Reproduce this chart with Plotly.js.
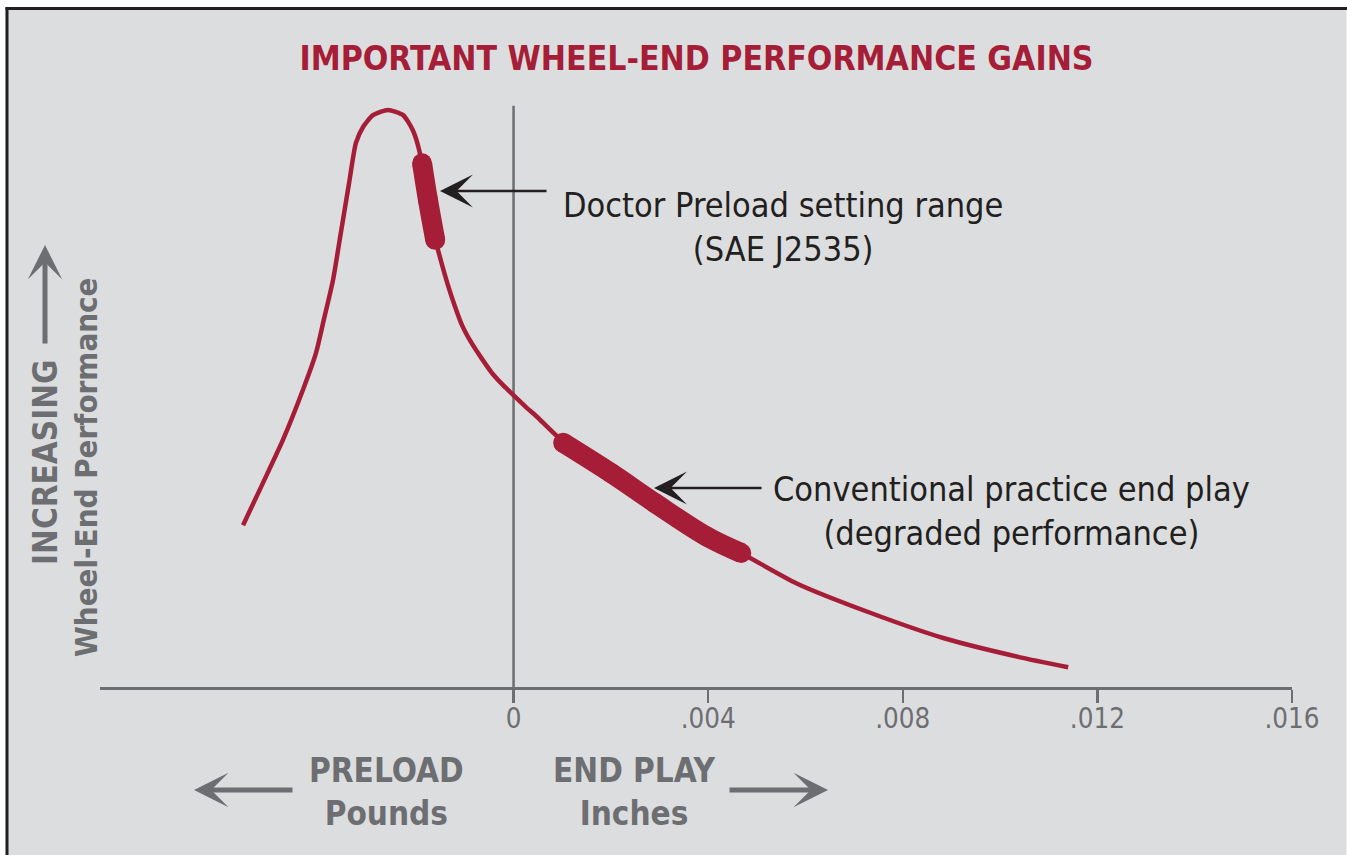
<!DOCTYPE html>
<html>
<head>
<meta charset="utf-8">
<script src="https://cdn.plot.ly/plotly-3.0.1.min.js"></script>
<style>
  html, body { margin: 0; padding: 0; background: #ffffff; overflow: hidden; }
  #chart { width: 1347px; height: 855px; }
</style>
</head>
<body>
<div id="chart"></div>
<script>
// ---- Data ----
// x: preload (negative) / end play in inches (positive); y: relative wheel-end performance (arbitrary 0-100)
const curveX = [-0.00556, -0.00515, -0.00474, -0.00433, -0.00406, -0.00390, -0.00371, -0.00355, -0.00338, -0.00324,
                -0.00309, -0.00289, -0.00258, -0.00227, -0.00207, -0.00194, -0.00176, -0.00159, -0.00149, -0.00136,
                -0.00122, -0.00106, -0.00087, -0.00066, -0.00044, -0.00021, 0.00000, 0.00025, 0.00048, 0.00094,
                0.00200, 0.00291, 0.00398, 0.00474, 0.00581, 0.00733, 0.00885, 0.01037, 0.01140];
const curveY = [27.9, 35.2, 42.6, 51.2, 57.6, 63.3, 70.2, 78.3, 86.9, 93.8,
                96.6, 98.6, 99.5, 98.6, 96.0, 92.6, 84.0, 76.6, 73.4, 69.6,
                66.0, 62.4, 59.4, 56.7, 54.1, 52.0, 50.3, 48.3, 46.6, 42.9,
                36.9, 31.7, 25.9, 22.8, 17.9, 12.8, 8.4, 5.2, 3.4];

// Highlighted range: Doctor Preload setting range (SAE J2535)
const doctorX = [-0.00188, -0.00176, -0.00161];
const doctorY = [90.3, 84.0, 77.1];

// Highlighted range: conventional practice end play
const convX = [0.00102, 0.00200, 0.00291, 0.00398, 0.00468];
const convY = [42.1, 36.9, 31.7, 25.9, 23.1];

const tickVals = [0, 0.004, 0.008, 0.012, 0.016];
const tickText = ['0', '.004', '.008', '.012', '.016'];

const titleText = 'IMPORTANT WHEEL-END PERFORMANCE GAINS';
const doctorLabel = 'Doctor Preload setting range<br>(SAE J2535)';
const convLabel = 'Conventional practice end play<br>(degraded performance)';

// ---- Styling ----
const RED = '#a51d36';
const GREY = '#6d6e71';
const INK = '#231f20';
const BG = '#dcdddf';
const NARROW = '"Liberation Sans Narrow", "DejaVu Sans Condensed", "Roboto Condensed", "Arial Narrow", sans-serif';

const W = 1347, H = 855, L = 100, R = 55, T = 78, B = 168;
const pw = W - L - R, ph = H - T - B;
const pxX = px => (px - L) / pw;
const pxY = py => (H - B - py) / ph;

const traces = [
  { x: curveX, y: curveY, type: 'scatter', mode: 'lines',
    line: { color: RED, width: 4.5, shape: 'spline', smoothing: 0.6 }, hoverinfo: 'skip' },
  { x: doctorX, y: doctorY, type: 'scatter', mode: 'lines+markers',
    line: { color: RED, width: 20, shape: 'spline' }, marker: { color: RED, size: 20 }, hoverinfo: 'skip' },
  { x: convX, y: convY, type: 'scatter', mode: 'lines+markers',
    line: { color: RED, width: 20, shape: 'spline' }, marker: { color: RED, size: 20 }, hoverinfo: 'skip' }
];

const annotations = [
  // callout texts
  { xref: 'paper', yref: 'paper', x: pxX(783), y: pxY(227), text: doctorLabel, showarrow: false,
    align: 'center', xanchor: 'center', yanchor: 'middle',
    font: { family: NARROW, size: 34, color: INK } },
  { xref: 'paper', yref: 'paper', x: pxX(1011), y: pxY(511), text: convLabel, showarrow: false,
    align: 'center', xanchor: 'center', yanchor: 'middle',
    font: { family: NARROW, size: 34, color: INK } },
  // callout arrows
  { xref: 'paper', yref: 'paper', x: pxX(440), y: pxY(191), text: '', showarrow: true,
    axref: 'pixel', ayref: 'pixel', ax: 108, ay: 0, arrowhead: 3, arrowsize: 2.2, arrowwidth: 2.5,
    arrowcolor: INK, standoff: 0 },
  { xref: 'paper', yref: 'paper', x: pxX(654), y: pxY(488), text: '', showarrow: true,
    axref: 'pixel', ayref: 'pixel', ax: 109, ay: 0, arrowhead: 3, arrowsize: 2.2, arrowwidth: 2.5,
    arrowcolor: INK, standoff: 0 },
  // bottom axis labels
  { xref: 'paper', yref: 'paper', x: pxX(386), y: pxY(792), text: '<b>PRELOAD</b><br><b>Pounds</b>', showarrow: false,
    align: 'center', xanchor: 'center', yanchor: 'middle',
    font: { family: NARROW, size: 33, color: GREY } },
  { xref: 'paper', yref: 'paper', x: pxX(634), y: pxY(792), text: '<b>END PLAY</b><br><b>Inches</b>', showarrow: false,
    align: 'center', xanchor: 'center', yanchor: 'middle',
    font: { family: NARROW, size: 33, color: GREY } },
  { xref: 'paper', yref: 'paper', x: pxX(194), y: pxY(790), text: '', showarrow: true,
    axref: 'pixel', ayref: 'pixel', ax: 100, ay: 0, arrowhead: 3, arrowsize: 1.15, arrowwidth: 5,
    arrowcolor: GREY, standoff: 0 },
  { xref: 'paper', yref: 'paper', x: pxX(828), y: pxY(790), text: '', showarrow: true,
    axref: 'pixel', ayref: 'pixel', ax: -100, ay: 0, arrowhead: 3, arrowsize: 1.15, arrowwidth: 5,
    arrowcolor: GREY, standoff: 0 },
  // vertical axis labels
  { xref: 'paper', yref: 'paper', x: pxX(45), y: pxY(463), text: '<b>INCREASING</b>', showarrow: false,
    textangle: -90, xanchor: 'center', yanchor: 'middle',
    font: { family: NARROW, size: 33, color: GREY } },
  { xref: 'paper', yref: 'paper', x: pxX(86), y: pxY(467), text: '<b>Wheel-End Performance</b>', showarrow: false,
    textangle: -90, xanchor: 'center', yanchor: 'middle',
    font: { family: NARROW, size: 31, color: GREY } },
  { xref: 'paper', yref: 'paper', x: pxX(45), y: pxY(245), text: '', showarrow: true,
    axref: 'pixel', ayref: 'pixel', ax: 0, ay: 100, arrowhead: 3, arrowsize: 1.15, arrowwidth: 5,
    arrowcolor: GREY, standoff: 0 }
];

const shapes = [
  // vertical zero line
  { type: 'line', xref: 'x', yref: 'y', x0: 0, x1: 0, y0: 0, y1: 100.2,
    line: { color: GREY, width: 2.5 }, layer: 'below' },
  // white outer margin (top and left)
  { type: 'rect', xref: 'paper', yref: 'paper', x0: pxX(0), x1: pxX(5.5), y0: pxY(H), y1: pxY(0),
    fillcolor: '#ffffff', line: { width: 0 }, layer: 'below' },
  { type: 'rect', xref: 'paper', yref: 'paper', x0: pxX(0), x1: pxX(W), y0: pxY(7), y1: pxY(0),
    fillcolor: '#ffffff', line: { width: 0 }, layer: 'below' },
  // faint light edge on the right
  { type: 'line', xref: 'paper', yref: 'paper', x0: pxX(W - 0.5), x1: pxX(W - 0.5), y0: pxY(H), y1: pxY(10),
    line: { color: '#eeeeef', width: 1 }, layer: 'below' },
  // dark frame lines
  { type: 'line', xref: 'paper', yref: 'paper', x0: pxX(7), x1: pxX(7), y0: pxY(H), y1: pxY(7.2),
    line: { color: INK, width: 3 }, layer: 'below' },
  { type: 'line', xref: 'paper', yref: 'paper', x0: pxX(5.5), x1: pxX(W), y0: pxY(8.6), y1: pxY(8.6),
    line: { color: INK, width: 3 }, layer: 'below' }
];

const layout = {
  width: W, height: H,
  margin: { l: L, r: R, t: T, b: B, pad: 0 },
  paper_bgcolor: BG, plot_bgcolor: BG,
  showlegend: false, hovermode: false,
  title: { text: '<b>' + titleText + '</b>', xref: 'paper', x: pxX(696.5), xanchor: 'center',
           yref: 'container', y: 1 - 58 / H, yanchor: 'middle',
           font: { family: NARROW, size: 33.5, color: RED } },
  xaxis: { range: [-0.0085, 0.016], showgrid: false, zeroline: false, showline: true,
           linecolor: GREY, linewidth: 2.5, ticks: 'outside', ticklen: 13, tickwidth: 2.5, tickcolor: GREY,
           tickmode: 'array', tickvals: tickVals, ticktext: tickText, ticklabelstandoff: -8,
           tickfont: { family: NARROW, size: 27.5, color: GREY }, fixedrange: true },
  yaxis: { range: [0, 105], visible: false, fixedrange: true },
  annotations: annotations, shapes: shapes
};

Plotly.newPlot('chart', traces, layout, { displayModeBar: false, staticPlot: true });
</script>
</body>
</html>
